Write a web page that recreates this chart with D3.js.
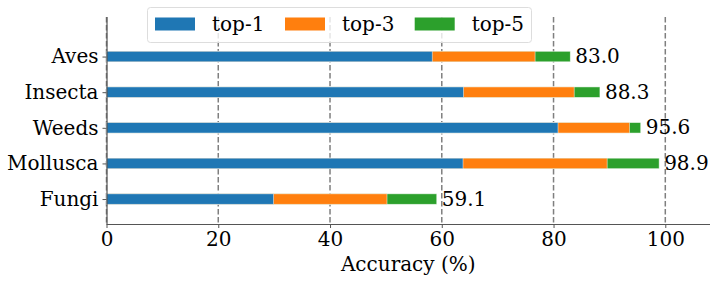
<!DOCTYPE html>
<html>
<head>
<meta charset="utf-8">
<script src="https://cdn.jsdelivr.net/npm/d3@7"></script>
<style>
  body { margin: 0; background: #fff; }
  svg text { font-family: "DejaVu Serif", serif; }
</style>
</head>
<body>
<div id="chart"></div>
<script>
// categories, bottom to top as drawn
const categories = ["Fungi", "Mollusca", "Weeds", "Insecta", "Aves"];
const top1 = [29.9, 63.8, 80.8, 63.9, 58.3];
const top3 = [50.2, 89.6, 93.6, 83.7, 76.7];
const top5 = [59.1, 98.9, 95.6, 88.3, 83.0];
const seriesNames = ["top-1", "top-3", "top-5"];
const xTicks = [0, 20, 40, 60, 80, 100];

const colors = ["#1f77b4", "#ff7f0e", "#2ca02c"];
const W = 718, H = 282;
const mLeft = 106.5, mRight = 710, mTop = 17, mBottom = 224;
const fs = "20px";

const svg = d3.select("#chart").append("svg")
  .attr("width", W).attr("height", H);

const x = d3.scaleLinear().domain([0, 108]).range([mLeft, mRight]);
const y = d3.scaleLinear().domain([-0.7, 5.11]).range([mBottom, mTop]);
const barH = 10.5;

// gridlines
svg.append("g").selectAll("line")
  .data(xTicks)
  .enter().append("line")
  .attr("x1", d => x(d)).attr("x2", d => x(d))
  .attr("y1", mTop).attr("y2", mBottom)
  .attr("stroke", "#7f7f7f")
  .attr("stroke-width", 1.5)
  .attr("stroke-dasharray", "5.5,2.5");

// bars: top-5 behind, top-1 in front
const series = [top5, top3, top1];
const seriesColors = [colors[2], colors[1], colors[0]];
series.forEach((vals, s) => {
  svg.append("g").selectAll("rect")
    .data(vals)
    .enter().append("rect")
    .attr("x", x(0))
    .attr("y", (d, i) => y(i) - barH / 2)
    .attr("width", d => x(d) - x(0))
    .attr("height", barH)
    .attr("fill", seriesColors[s])
    .attr("stroke", "#fff")
    .attr("stroke-opacity", 0.6)
    .attr("stroke-width", 0.8);
});

// value labels
svg.append("g").selectAll("text")
  .data(top5)
  .enter().append("text")
  .attr("x", d => x(d) + 5)
  .attr("y", (d, i) => y(i))
  .attr("dy", "0.33em")
  .style("font-size", fs)
  .attr("fill", "#000")
  .text(d => d.toFixed(1));

// axes
const xAxis = svg.append("g")
  .attr("transform", `translate(0,${mBottom})`)
  .call(d3.axisBottom(x).tickValues(xTicks).tickSize(4).tickPadding(4).tickSizeOuter(0));
xAxis.select(".domain").attr("stroke", "#555").attr("stroke-width", 1.2)
  .attr("d", `M${mLeft},0.5H${mRight}`);
xAxis.selectAll(".tick line").attr("stroke", "#555");
xAxis.selectAll("text").style("font-size", fs).attr("fill", "#000");

const yAxis = svg.append("g")
  .attr("transform", `translate(${mLeft},0)`)
  .call(d3.axisLeft(y).tickValues(d3.range(categories.length))
    .tickFormat(i => categories[i]).tickSize(4).tickPadding(4).tickSizeOuter(0));
yAxis.select(".domain").attr("stroke", "#555").attr("stroke-width", 1.2)
  .attr("d", `M0.5,${mTop}V${mBottom}`);
yAxis.selectAll(".tick line").attr("stroke", "#555");
yAxis.selectAll("text").style("font-size", fs).attr("fill", "#000");

svg.append("text")
  .attr("x", (mLeft + mRight) / 2)
  .attr("y", 271)
  .attr("text-anchor", "middle")
  .style("font-size", fs)
  .text("Accuracy (%)");

// legend
const lg = svg.append("g");
lg.append("rect")
  .attr("x", 147.5).attr("y", 7.5).attr("width", 384).attr("height", 35)
  .attr("rx", 3)
  .attr("fill", "#fff").attr("fill-opacity", 0.8)
  .attr("stroke", "#ddd");
const lgX = [155, 285, 414.7];
seriesNames.forEach((name, i) => {
  lg.append("rect")
    .attr("x", lgX[i]).attr("y", 17.5).attr("width", 40).attr("height", 13)
    .attr("fill", colors[i]);
  lg.append("text")
    .attr("x", lgX[i] + 57).attr("y", 24)
    .attr("dy", "0.36em")
    .style("font-size", fs)
    .text(name);
});
</script>
</body>
</html>
